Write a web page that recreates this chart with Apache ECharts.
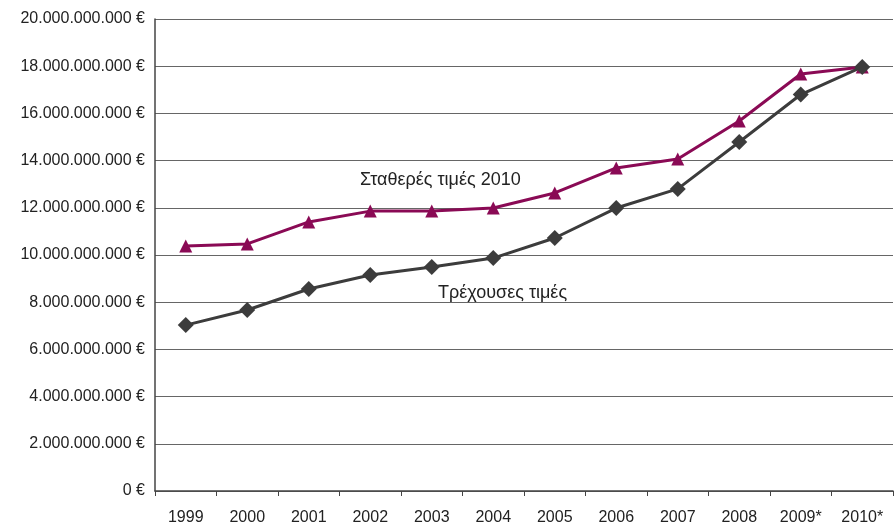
<!DOCTYPE html>
<html>
<head>
<meta charset="utf-8">
<script src="https://cdn.jsdelivr.net/npm/echarts@6/dist/echarts.min.js"></script>
<style>
    html, body { margin: 0; padding: 0; background: #fff; }
    #main { width: 895px; height: 528px; }
</style>
</head>
<body>
<div id="main"></div>
<script type="text/javascript">
    var years = ['1999', '2000', '2001', '2002', '2003', '2004', '2005', '2006', '2007', '2008', '2009*', '2010*'];
    // σταθερές τιμές 2010
    var constantPrices = [10380000000, 10470000000, 11400000000, 11860000000, 11860000000, 11990000000, 12630000000, 13690000000, 14070000000, 15680000000, 17670000000, 17970000000];
    // τρέχουσες τιμές
    var currentPrices = [7030000000, 7670000000, 8560000000, 9150000000, 9490000000, 9870000000, 10720000000, 11990000000, 12800000000, 14790000000, 16800000000, 17970000000];

    function euro(v) {
        return String(v).replace(/\B(?=(\d{3})+(?!\d))/g, '.') + ' €';
    }

    var font = 'Liberation Sans, Arial, sans-serif';
    var myChart = echarts.init(document.getElementById('main'));
    var option = {
        animation: false,
        textStyle: { fontFamily: font },
        grid: { left: 155, right: 2, top: 19, bottom: 37 },
        xAxis: {
            type: 'category',
            data: years,
            boundaryGap: true,
            axisLine: { lineStyle: { color: '#444', width: 1.5 } },
            axisTick: { show: true, length: 5, lineStyle: { color: '#444' } },
            axisLabel: { color: '#222', fontSize: 16, margin: 19 },
            splitLine: { show: false }
        },
        yAxis: {
            type: 'value',
            min: 0,
            max: 20000000000,
            interval: 2000000000,
            axisLine: { show: true, lineStyle: { color: '#444', width: 1.5 } },
            axisTick: { show: false },
            axisLabel: { color: '#222', fontSize: 16, margin: 10, formatter: euro },
            splitLine: { lineStyle: { color: '#666', width: 1 } }
        },
        graphic: [
            { type: 'text', left: 360, top: 171, style: { text: 'Σταθερές τιμές 2010', fontSize: 18, fill: '#222', fontFamily: font } },
            { type: 'text', left: 438, top: 284, style: { text: 'Τρέχουσες τιμές', fontSize: 18, fill: '#222', fontFamily: font } }
        ],
        series: [{
            name: 'Σταθερές τιμές 2010',
            type: 'line',
            data: constantPrices,
            symbol: 'triangle',
            symbolSize: 13,
            lineStyle: { color: '#8a0a55', width: 3 },
            itemStyle: { color: '#8a0a55' }
        }, {
            name: 'Τρέχουσες τιμές',
            type: 'line',
            data: currentPrices,
            symbol: 'diamond',
            symbolSize: 16,
            lineStyle: { color: '#3c3c3c', width: 3 },
            itemStyle: { color: '#3c3c3c' }
        }]
    };
    myChart.setOption(option);
</script>
</body>
</html>
